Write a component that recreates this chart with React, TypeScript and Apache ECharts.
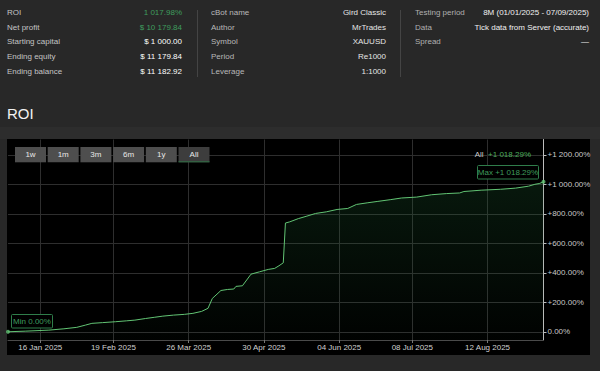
import React, { useEffect, useRef } from "react";
import * as echarts from "echarts";

const dates = [
  "2025-01-01", "2025-01-09", "2025-01-20", "2025-01-27", "2025-02-02", "2025-02-06",
  "2025-02-09", "2025-02-14", "2025-02-20", "2025-02-25", "2025-03-01", "2025-03-06",
  "2025-03-10", "2025-03-14", "2025-03-19", "2025-03-24", "2025-03-28", "2025-04-01",
  "2025-04-04", "2025-04-06", "2025-04-10", "2025-04-13", "2025-04-16", "2025-04-17",
  "2025-04-20", "2025-04-24", "2025-04-28", "2025-05-02", "2025-05-05", "2025-05-07",
  "2025-05-09", "2025-05-10", "2025-05-12", "2025-05-16", "2025-05-20", "2025-05-24",
  "2025-05-29", "2025-06-03", "2025-06-08", "2025-06-12", "2025-06-17", "2025-06-22",
  "2025-06-28", "2025-07-03", "2025-07-10", "2025-07-17", "2025-07-24", "2025-07-30",
  "2025-08-01", "2025-08-09", "2025-08-18", "2025-08-25", "2025-08-31", "2025-09-03",
  "2025-09-05", "2025-09-07",
];
const roi = [
  0, 4, 11, 20, 30, 45,
  57, 62, 68, 74, 79, 90,
  98, 106, 113, 118, 125, 138,
  159, 226, 280, 287, 290, 308,
  312, 391, 407, 423, 430, 448,
  468, 738, 746, 768, 785, 803,
  814, 830, 837, 864, 875, 885,
  897, 908, 914, 930, 938, 942,
  952, 961, 967, 975, 988, 1001,
  1006, 1018.29,
];

const xStart = "2025-01-01";
const xEnd = "2025-09-07";
const xTickDates = ["2025-01-16", "2025-02-19", "2025-03-26", "2025-04-30", "2025-06-04", "2025-07-08", "2025-08-12"];
const yTicks = [0, 200, 400, 600, 800, 1000, 1200];
const monthNames = ["Jan", "Feb", "Mar", "Apr", "May", "Jun", "Jul", "Aug", "Sep", "Oct", "Nov", "Dec"];

const summaryLabels = ["ROI", "Net profit", "Starting capital", "Ending equity", "Ending balance"];
const summaryValues = ["1 017.98%", "$ 10 179.84", "$ 1 000.00", "$ 11 179.84", "$ 11 182.92"];
const summaryGreen = [true, true, false, false, false];
const botLabels = ["cBot name", "Author", "Symbol", "Period", "Leverage"];
const botValues = ["Gird Classic", "MrTrades", "XAUUSD", "Re1000", "1:1000"];
const testLabels = ["Testing period", "Data", "Spread"];
const testValues = ["8M (01/01/2025 - 07/09/2025)", "Tick data from Server (accurate)", "—"];
const rangeButtons = ["1w", "1m", "3m", "6m", "1y", "All"];
const allReturnText = "+1 018.29%";
const maxText = "Max +1 018.29%";
const minText = "Min 0.00%";

const FONT = "'Liberation Sans', Arial, sans-serif";
const GREEN_TXT = "#3f9d5e";

function ts(s: string): number {
  const [y, m, d] = s.split("-").map(Number);
  return Date.UTC(y, m - 1, d);
}

function fmtPct(v: number): string {
  const s = Math.abs(v).toFixed(2);
  const [i, d] = s.split(".");
  const ii = i.replace(/\B(?=(\d{3})+(?!\d))/g, " ");
  return (v > 0 ? "+" : "") + ii + "." + d + "%";
}

function fmtDate(v: number): string {
  const d = new Date(v);
  return String(d.getUTCDate()).padStart(2, "0") + " " + monthNames[d.getUTCMonth()] + " " + d.getUTCFullYear();
}

function text(x: number, y: number, t: string, fill: string, size: number, align: string = "left", extra: any = {}) {
  return {
    type: "text",
    z: 20,
    style: {
      x, y, text: t, fill,
      fontSize: size,
      fontFamily: FONT,
      textAlign: align,
      textVerticalAlign: "middle",
      ...extra,
    },
  };
}

export default function App() {
  const ref = useRef<HTMLDivElement>(null);
  useEffect(() => {
    if (!ref.current) return;
    const chart = echarts.init(ref.current, null, { renderer: "svg" });
    const rowY = [12.3, 27, 41.7, 56.3, 71];
    const graphics: any[] = [];
    graphics.push({ type: "rect", z: -10, shape: { x: 0, y: 127, width: 600, height: 12 }, style: { fill: "#2d2d2d" } });
    graphics.push({ type: "rect", z: -9, shape: { x: 7, y: 139, width: 583, height: 216 }, style: { fill: "#000" } });
    summaryLabels.forEach((l, i) => {
      graphics.push(text(7, rowY[i], l, "#c4c4c4", 8));
      graphics.push(text(182, rowY[i], summaryValues[i], summaryGreen[i] ? GREEN_TXT : "#ffffff", 8, "right"));
    });
    botLabels.forEach((l, i) => {
      graphics.push(text(211, rowY[i], l, "#b8b8b8", 8));
      graphics.push(text(386, rowY[i], botValues[i], "#e6e6e6", 8, "right"));
    });
    testLabels.forEach((l, i) => {
      graphics.push(text(415, rowY[i], l, "#b0b0b0", 8));
      graphics.push(text(589, rowY[i], testValues[i], "#f0f0f0", 8, "right"));
    });
    graphics.push({ type: "line", z: 20, shape: { x1: 197.5, y1: 10, x2: 197.5, y2: 77 }, style: { stroke: "#444", lineWidth: 1 } });
    graphics.push({ type: "line", z: 20, shape: { x1: 400.5, y1: 10, x2: 400.5, y2: 77 }, style: { stroke: "#444", lineWidth: 1 } });
    graphics.push(text(7, 113, "ROI", "#f2f2f2", 15));
    rangeButtons.forEach((b, i) => {
      const x = 15 + i * 32.7;
      const sel = b === "All";
      graphics.push({ type: "rect", z: 20, shape: { x, y: 147, width: 31, height: 15.3 }, style: { fill: sel ? "#3d3d3d" : "#4e4e4e" } });
      if (sel) {
        graphics.push({ type: "line", z: 21, shape: { x1: x, y1: 161.8, x2: x + 31, y2: 161.8 }, style: { stroke: "#2f6f45", lineWidth: 1 } });
      }
      graphics.push(text(x + 15.5, 154.5, b, "#e8e8e8", 8, "center"));
    });
    graphics.push({
      type: "text", z: 20,
      style: {
        x: 531, y: 154, text: "{a|All}  {b|" + allReturnText + "}",
        textAlign: "right", textVerticalAlign: "middle", fontFamily: FONT, fontSize: 8,
        rich: { a: { fill: "#c8c8c8", fontSize: 8, fontFamily: FONT }, b: { fill: "#4caf5c", fontSize: 8, fontFamily: FONT } },
      },
    });
    graphics.push({ type: "rect", z: 20, shape: { x: 477.5, y: 165.5, width: 61, height: 13.5, r: 1 }, style: { fill: "#000", stroke: "#2f7d4a", lineWidth: 1 } });
    graphics.push(text(508, 172.3, maxText, GREEN_TXT, 8, "center"));
    graphics.push({ type: "rect", z: 20, shape: { x: 11.5, y: 314.5, width: 41, height: 13.5, r: 1 }, style: { fill: "#000", stroke: "#2f7d4a", lineWidth: 1 } });
    graphics.push(text(32, 321.3, minText, GREEN_TXT, 8, "center"));

    const lineData = dates.map((d, i) => [ts(d), roi[i]]);
    const endPoints = [lineData[0], lineData[lineData.length - 1]];
    const xTicks = xTickDates.map(ts);

    chart.setOption({
      animation: false,
      backgroundColor: "#282828",
      textStyle: { fontFamily: FONT },
      grid: { left: 8, right: 56.5, top: 139.5, bottom: 31, containLabel: false },
      xAxis: {
        type: "value",
        min: ts(xStart),
        max: ts(xEnd),
        axisLine: { show: true, onZero: false, lineStyle: { color: "#4a4a4a", width: 1 } },
        axisTick: { show: true, length: 3, lineStyle: { color: "#777" }, customValues: xTicks },
        axisLabel: {
          customValues: xTicks,
          color: "#d0d0d0", fontSize: 8, fontFamily: FONT, margin: 3,
          formatter: (v: number) => fmtDate(v),
        },
        splitLine: { show: true, lineStyle: { color: "#2e2e2e", width: 1 } },
      },
      yAxis: {
        type: "value",
        position: "right",
        min: -56,
        max: 1305,
        axisLine: { show: true, lineStyle: { color: "#bdbdbd", width: 1 } },
        axisTick: { show: true, length: 3, lineStyle: { color: "#bdbdbd" }, customValues: yTicks },
        axisLabel: {
          customValues: yTicks,
          color: "#c8c8c8", fontSize: 8, fontFamily: FONT, margin: 4,
          formatter: (v: number) => fmtPct(v),
        },
        splitLine: { show: true, lineStyle: { color: "#2e2e2e", width: 1 } },
      },
      series: [
        {
          type: "line",
          data: lineData,
          showSymbol: false,
          symbol: "none",
          lineStyle: { color: "#62c474", width: 1 },
          areaStyle: {
            origin: "start",
            color: new echarts.graphic.LinearGradient(0, 0, 0, 1, [
              { offset: 0, color: "rgba(32,105,55,0.33)" },
              { offset: 1, color: "rgba(32,105,55,0.03)" },
            ]),
          },
          z: 3,
        },
        {
          type: "scatter",
          data: endPoints,
          symbol: "circle",
          symbolSize: 4,
          itemStyle: { color: "#62c474" },
          z: 4,
        },
      ],
      graphic: graphics,
    });
    return () => chart.dispose();
  }, []);
  return <div ref={ref} style={{ position: "fixed", left: 0, top: 0, width: 600, height: 371 }} />;
}
